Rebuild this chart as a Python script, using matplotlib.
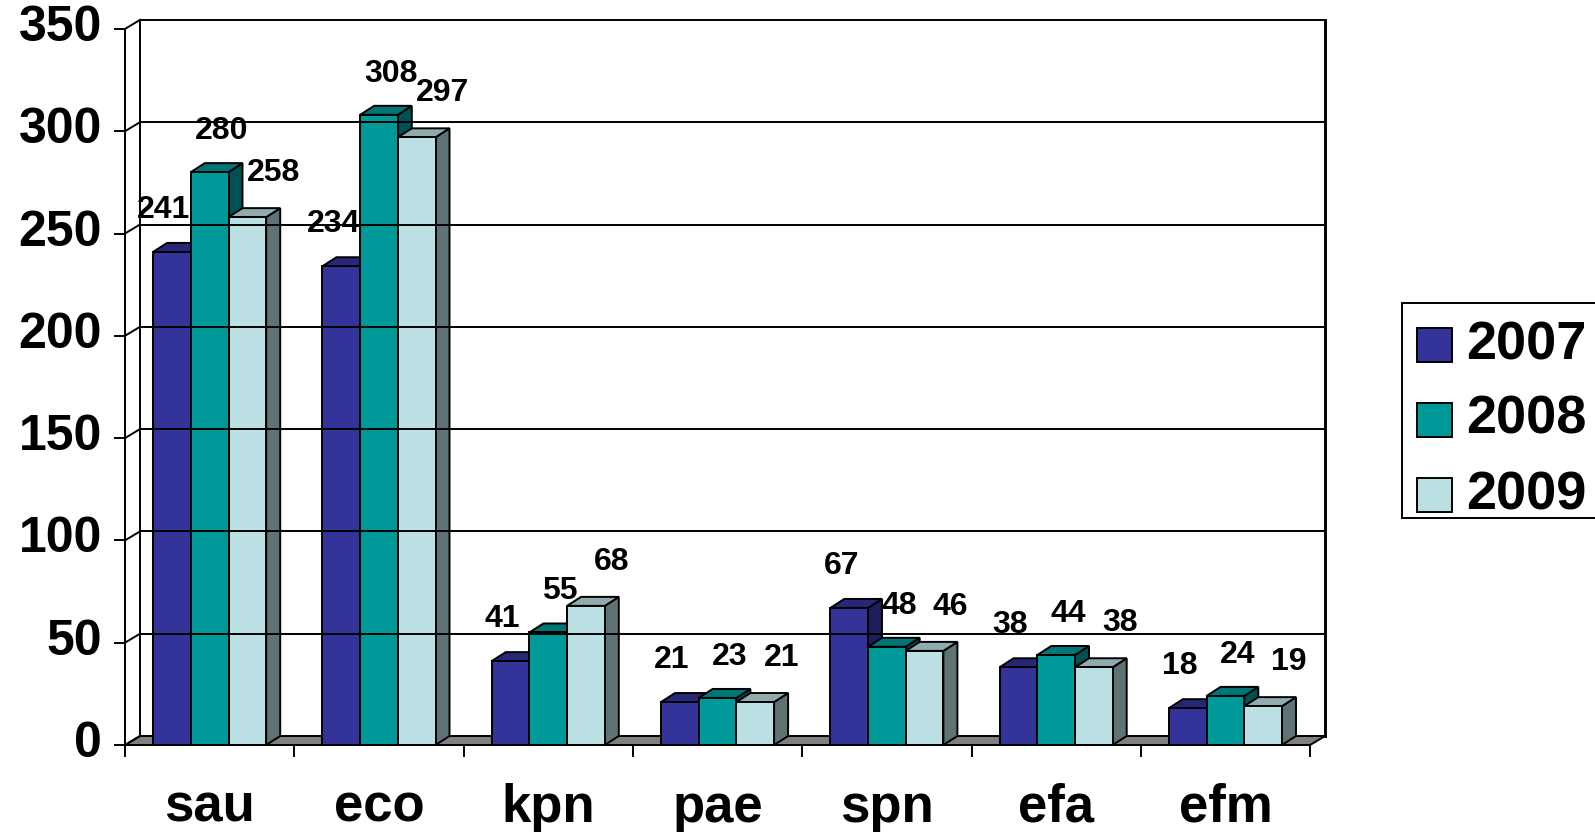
import matplotlib.pyplot as plt
from matplotlib.patches import Polygon, Rectangle

plt.rcParams['font.family'] = ['Liberation Sans', 'DejaVu Sans']
plt.rcParams['font.weight'] = 'bold'

categories = ['sau', 'eco', 'kpn', 'pae', 'spn', 'efa', 'efm']
years = ['2007', '2008', '2009']
v2007 = [241, 234, 41, 21, 67, 38, 18]
v2008 = [280, 308, 55, 23, 48, 44, 24]
v2009 = [258, 297, 68, 21, 46, 38, 19]
series = [v2007, v2008, v2009]
yticks = [0, 50, 100, 150, 200, 250, 300, 350]

front_cols = ['#333399', '#009999', '#BBE0E3']
top_cols = ['#272778', '#007575', '#8FABAD']
side_cols = ['#1E1E5A', '#005252', '#5F7274']

# pixel geometry of the reference
W, H = 1595, 832
x0_px, y0_px = 125, 745
cat_px = 169.3
unit_px = 2.046

fig = plt.figure(figsize=(W / 100, H / 100), dpi=100)
xmax, ymax = 7.2, 360
ax = fig.add_axes([x0_px / W, (H - y0_px) / H,
                   xmax * cat_px / W, ymax * unit_px / H])
ax.set_xlim(0, xmax)
ax.set_ylim(0, ymax)
ax.axis('off')

def px_x(p):
    return p / cat_px

def px_y(p):
    return p / unit_px

DX, DY = px_x(15), px_y(9)      # wall depth
BX, BY = px_x(14), px_y(9)      # bar depth
n = len(categories)
ytop = yticks[-1]
lw = 1.4

# floor
ax.add_patch(Polygon([(0, 0), (n, 0), (n + DX, DY), (DX, DY)], closed=True,
                     facecolor='#808080', edgecolor='black', lw=lw, clip_on=False))

# back wall gridlines and edges
for v in yticks[1:]:
    ax.plot([DX, n + DX], [v + DY, v + DY], color='black', lw=lw, clip_on=False)
ax.plot([DX, DX], [DY, ytop + DY], color='black', lw=lw, clip_on=False)
ax.plot([n + DX, n + DX], [DY, ytop + DY], color='black', lw=lw * 1.5, clip_on=False)

# left side wall / y axis
ax.plot([0, 0], [0, ytop], color='black', lw=lw, clip_on=False)
for v in yticks:
    ax.plot([0, DX], [v, v + DY], color='black', lw=lw, clip_on=False)
    ax.plot([-px_x(10), 0], [v, v], color='black', lw=lw, clip_on=False)
    ax.text(-px_x(23), v + px_y(1), str(v), ha='right', va='center',
            fontsize=36, fontweight='bold')

# x axis
ax.plot([0, n], [0, 0], color='black', lw=lw, clip_on=False)
for i in range(n + 1):
    ax.plot([i, i], [0, -px_y(11)], color='black', lw=lw, clip_on=False)
for i, c in enumerate(categories):
    ax.text(i + 0.5, -px_y(77), c, ha='center', va='baseline',
            fontsize=38, fontweight='bold')

# bars
bw = px_x(37.7)
lab_dx = [px_x(-8), px_x(12), px_x(26)]
lab_dy = [px_y(42), px_y(41), px_y(44)]
for i in range(n):
    for j, vals in enumerate(series):
        v = vals[i]
        left = i + 0.5 - 1.5 * bw + j * bw
        right = left + bw
        ax.add_patch(Polygon([(right, 0), (right + BX, BY), (right + BX, v + BY), (right, v)],
                             closed=True, facecolor=side_cols[j], edgecolor='black',
                             lw=lw, clip_on=False))
        ax.add_patch(Polygon([(left, v), (right, v), (right + BX, v + BY), (left + BX, v + BY)],
                             closed=True, facecolor=top_cols[j], edgecolor='black',
                             lw=lw, clip_on=False))
        ax.add_patch(Rectangle((left, 0), bw, v, facecolor=front_cols[j],
                               edgecolor='black', lw=lw, clip_on=False))
        ax.text(left + bw / 2 + lab_dx[j], v + lab_dy[j], str(v), ha='center',
                va='center', fontsize=23, fontweight='bold')

# legend
def fx(p):
    return p / W

def fy(p):
    return 1 - p / H

fig.patches.append(Rectangle((fx(1402), fy(518)), fx(220), (518 - 303) / H,
                             transform=fig.transFigure, facecolor='white',
                             edgecolor='black', lw=lw))
for j, yr in enumerate(years):
    cy = 345 + 75 * j
    fig.patches.append(Rectangle((fx(1417), fy(cy + 17)), fx(35), 34 / H,
                                 transform=fig.transFigure, facecolor=front_cols[j],
                                 edgecolor='black', lw=lw))
    fig.text(fx(1466), fy(cy), yr, ha='left', va='center', fontsize=39,
             fontweight='bold')

fig.savefig('out.png', dpi=100)
